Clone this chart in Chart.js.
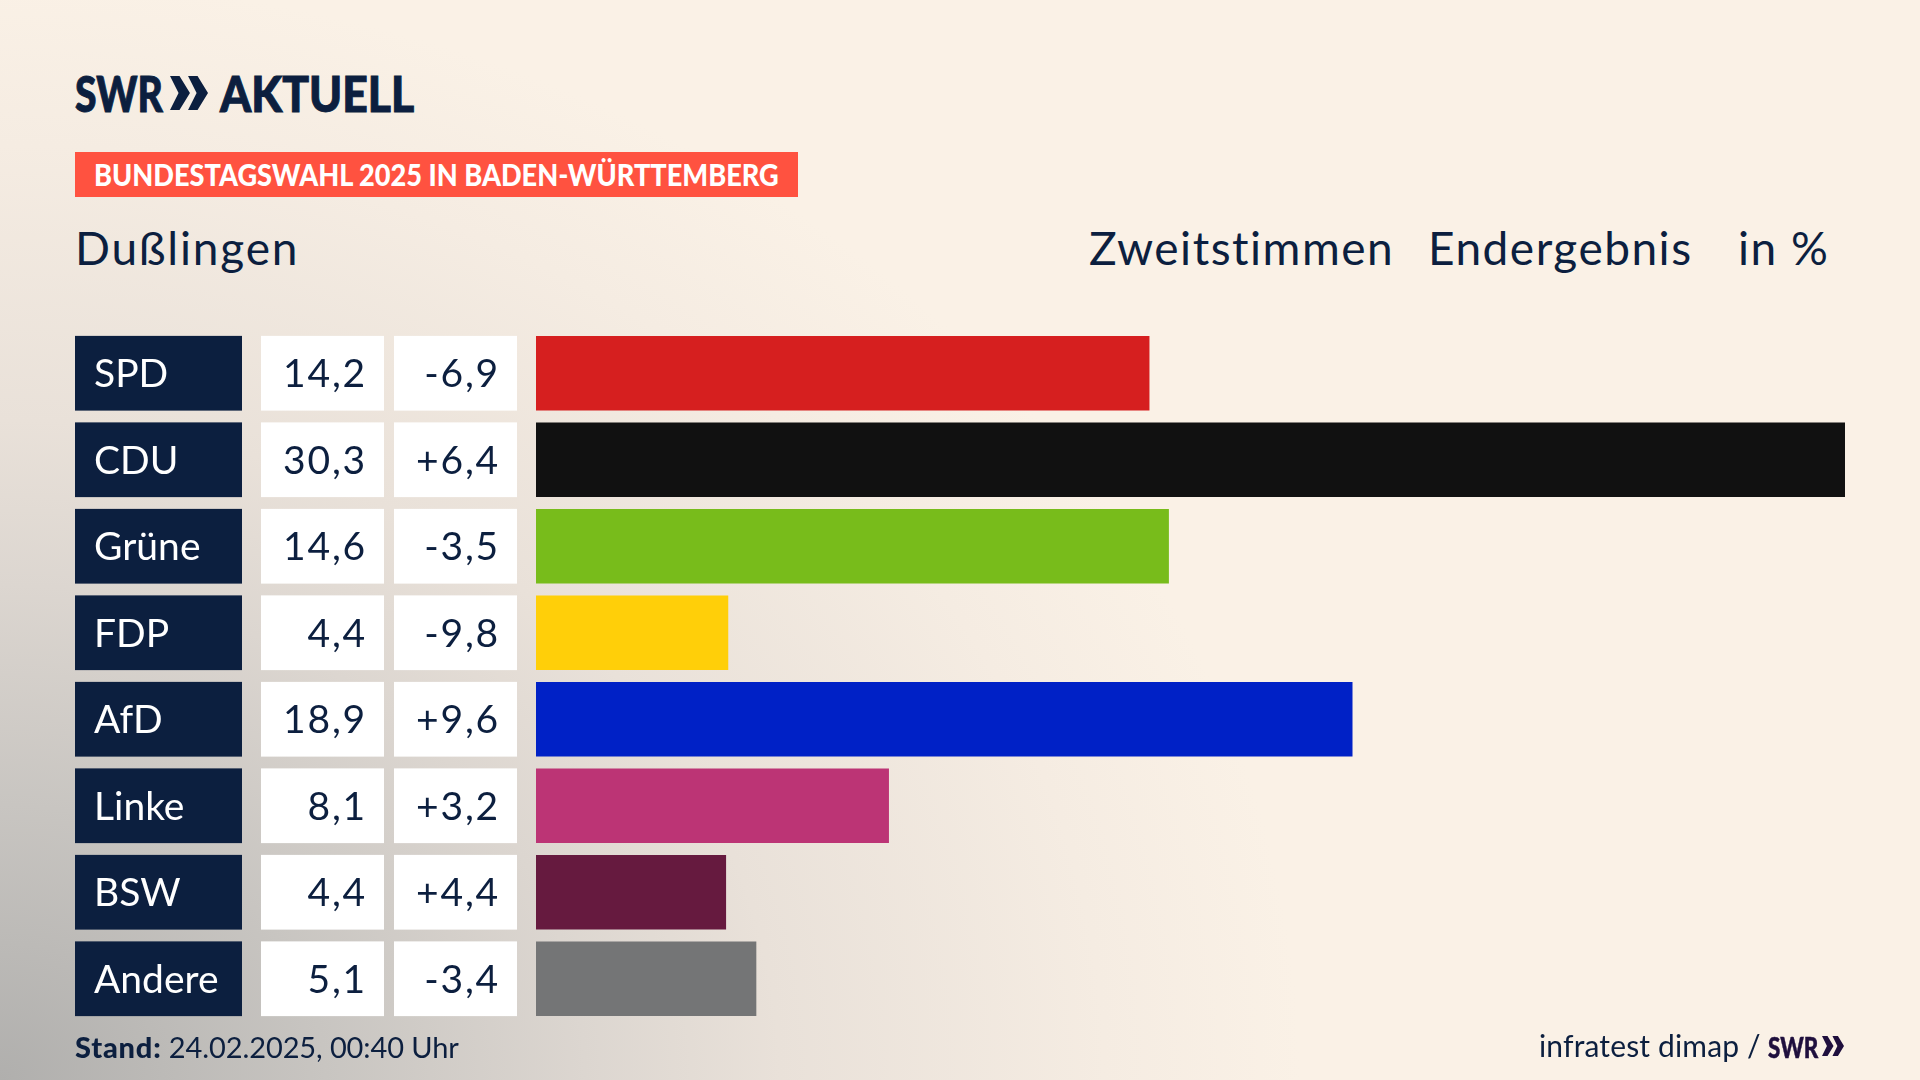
<!DOCTYPE html>
<html lang="de">
<head>
<meta charset="utf-8">
<title>Bundestagswahl 2025 - Dußlingen</title>
<script src="https://cdn.jsdelivr.net/npm/chart.js@4"></script>
<style>
	html, body { margin: 0; padding: 0; }
	body {
		position: relative;
		width: 1920px;
		height: 1080px;
		overflow: hidden;
		font-family: Lato, sans-serif;
		color: #0c1f3f;
		background-color: #faf1e6;
		background-image: radial-gradient(ellipse 1300px 1100px at 0 100%, #b0afad 0%, #c8c5c1 25%, #dcd6d0 45%, #e9e1d9 60%, #f5ece2 85%, #faf1e6 100%);
	}
	canvas { position: absolute; left: 0; top: 0; }
	.txt { position: absolute; white-space: nowrap; line-height: 1; transform-origin: 0 0; }
	.head { top: 225px; font-size: 46px; letter-spacing: 1.5px; }
	.logo { top: 68px; font-size: 50px; font-weight: 900; -webkit-text-stroke: 1px #0c1f3f; }
	#tag { position: absolute; left: 75px; top: 152px; width: 723px; height: 45px; background: #ff5240; }
	svg { position: absolute; }
</style>
</head>
<body>
<div class="txt logo" style="left:75px;transform:scaleX(.78);">SWR</div>
<svg style="left:170px;top:75px" width="38" height="36" viewBox="0 0 40 36"><path fill="#0c1f3f" d="M0 0h10l11 18-11 18H0l9-18zM19 0h10l11 18-11 18H19l9-18z"/></svg>
<div class="txt logo" style="left:220px;transform:scaleX(.89);">AKTUELL</div>
<div id="tag"></div>
<div class="txt" style="left:94px;top:159px;font-size:30px;font-weight:900;color:#fff;transform:scaleX(.905);">BUNDESTAGSWAHL 2025 IN BADEN-WÜRTTEMBERG</div>
<div class="txt head" style="left:75px;letter-spacing:1.8px;">Dußlingen</div>
<div class="txt head" style="left:1089px;">Zweitstimmen</div>
<div class="txt head" style="left:1428px;">Endergebnis</div>
<div class="txt head" style="left:1738px;">in %</div>
<canvas id="chart_results" width="1920" height="1080"></canvas>
<div class="txt" style="left:75px;top:1032px;font-size:29px;letter-spacing:-.1px;"><b style="font-weight:900;letter-spacing:.8px">Stand:</b> 24.02.2025, 00:40 Uhr</div>
<div class="txt" style="left:1539px;top:1030px;font-size:30px;letter-spacing:.15px;">infratest dimap /</div>
<div class="txt" style="left:1768px;top:1032px;font-size:29px;font-weight:900;color:#1f0f3d;transform:scaleX(.77);-webkit-text-stroke:.5px #1f0f3d;">SWR</div>
<svg style="left:1822px;top:1036px" width="22" height="20" viewBox="0 0 40 36"><path fill="#1f0f3d" d="M0 0h10l11 18-11 18H0l9-18zM19 0h10l11 18-11 18H19l9-18z"/></svg>

<script>
var parties = ["SPD", "CDU", "Grüne", "FDP", "AfD", "Linke", "BSW", "Andere"];
var shares = [14.2, 30.3, 14.65, 4.45, 18.9, 8.17, 4.4, 5.1];
var share_labels = ["14,2", "30,3", "14,6", "4,4", "18,9", "8,1", "4,4", "5,1"];
var diff_labels = ["-6,9", "+6,4", "-3,5", "-9,8", "+9,6", "+3,2", "+4,4", "-3,4"];
var party_colors = ["#d61f1f", "#111111", "#78bc1b", "#ffcf09", "#0021c6", "#bc3475", "#661a3f", "#747576"];

/**
 * Ritar namnrutan och de två vita rutorna till vänster om varje stapel
 */
var row_cells = {
	id: "row_cells",
	afterDatasetsDraw: function(chart)
	{
		var ctx = chart.ctx;
		var bars = chart.getDatasetMeta(0).data;

		ctx.save();
		ctx.textBaseline = "alphabetic";
		ctx.font = "39px Lato, sans-serif";
		for(var i = 0; i < bars.length; i++)
		{
			var top = bars[i].y - bars[i].height / 2;
			var baseline = bars[i].y + 14;

			ctx.fillStyle = "#0c1f3f";
			ctx.fillRect(75, top, 167, bars[i].height);
			ctx.fillStyle = "#ffffff";
			ctx.fillRect(261, top, 123, bars[i].height);
			ctx.fillRect(394, top, 123, bars[i].height);

			//partinamn
			ctx.letterSpacing = "0px";
			ctx.textAlign = "left";
			ctx.fillText(parties[i], 94, baseline);

			//procent och förändring
			ctx.letterSpacing = "1.8px";
			ctx.fillStyle = "#0c1f3f";
			ctx.textAlign = "right";
			ctx.fillText(share_labels[i], 367, baseline);
			ctx.fillText(diff_labels[i], 500, baseline);
		}
		ctx.restore();
	}
};

new Chart(document.getElementById("chart_results"), {
	type: "bar",
	data: {
		labels: parties,
		datasets: [{
			data: shares,
			backgroundColor: party_colors,
			barPercentage: 0.864,
			categoryPercentage: 1
		}]
	},
	options: {
		indexAxis: "y",
		responsive: false,
		animation: false,
		layout: { padding: { left: 536, right: 75, top: 330, bottom: 58 } },
		scales: {
			x: { display: false, min: 0, max: 30.3 },
			y: { display: false }
		},
		plugins: {
			legend: { display: false },
			tooltip: { enabled: false }
		}
	},
	plugins: [row_cells]
});
</script>
</body>
</html>
